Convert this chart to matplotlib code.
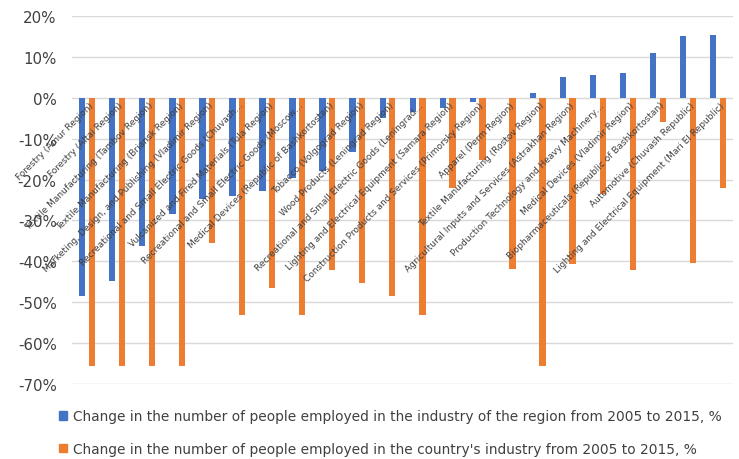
import numpy as np
import matplotlib
matplotlib.use("Agg")
from matplotlib import pyplot as plt
from matplotlib.patches import Patch

categories = [
    "Forestry (Amur Region)",
    "Forestry (Altai Region)",
    "Textile Manufacturing (Tambov Region)",
    "Textile Manufacturing (Briansk Region)",
    "Marketing, Design, and Publishing (Vladimir Region)",
    "Recreational and Small Electric Goods (Chuvash\u2026",
    "Vulcanized and Fired Materials (Tula Region)",
    "Recreational and Small Electric Goods (Moscow\u2026",
    "Medical Devices (Republic of Bashkortostan)",
    "Tobacco (Volgograd Region)",
    "Wood Products (Leningrad Region)",
    "Recreational and Small Electric Goods (Leningrad\u2026",
    "Lighting and Electrical Equipment (Samara Region)",
    "Construction Products and Services (Primorsky Region)",
    "Apparel (Perm Region)",
    "Textile Manufacturing (Rostov Region)",
    "Agricultural Inputs and Services (Astrakhan Region)",
    "Production Technology and Heavy Machinery\u2026",
    "Medical Devices (Vladimir Region)",
    "Biopharmaceuticals (Republic of Bashkortostan)",
    "Automotive (Chuvash Republic)",
    "Lighting and Electrical Equipment (Mari El Republic)",
]

# % change in employment, 2005 -> 2015
region_change = [-48.4, -44.7, -36.3, -28.5, -24.7, -24.1, -22.7, -19.5, -17.8, -13.2,
                 -4.9, -3.4, -2.4, -1.0, 0.0, 1.1, 5.0, 5.6, 6.0, 10.9, 15.1, 15.4]
country_change = [-65.5, -65.5, -65.5, -65.5, -35.5, -53.1, -46.6, -53.1, -42.1, -45.4,
                  -48.4, -53.1, -22.0, -15.3, -41.8, -65.5, -40.6, -23.6, -42.1, -5.8,
                  -40.4, -22.0]

yticks = [20, 10, 0, -10, -20, -30, -40, -50, -60, -70]

legend_labels = [
    "Change in the number of people employed in the industry of the region from 2005 to 2015, %",
    "Change in the number of people employed in the country's industry from 2005 to 2015, %",
]

blue = "#4472C4"
orange = "#ED7D31"
text_col = "#404040"

fig = plt.figure(figsize=(7.39, 4.60), dpi=100)
ax = fig.add_axes([0.0974, 0.163, 0.8946, 0.8])

x = np.arange(len(categories))
w = 0.21
off = 0.16
ax.bar(x - off, region_change, w, color=blue, zorder=3)
ax.bar(x + off, country_change, w, color=orange, zorder=3)

ax.set_xlim(-0.5, len(categories) - 0.5)
ax.set_ylim(-70, 20)
ax.set_yticks(yticks)
ax.set_yticklabels([f"{t}%" for t in yticks], fontsize=10.8, color=text_col)
ax.tick_params(axis="y", length=0, pad=11)
ax.set_xticks([])
ax.grid(axis="y", color="#d9d9d9", linewidth=1, zorder=0)
for s in ax.spines.values():
    s.set_visible(False)

# category names sit under the zero line, rotated
for i, name in enumerate(categories):
    ax.text(i + 0.05, -0.6, name, rotation=45, rotation_mode="anchor",
            ha="right", va="top", fontsize=6.5, color=text_col, zorder=4)

handles = [Patch(color=blue), Patch(color=orange)]
fig.legend(handles, legend_labels, loc="upper left", bbox_to_anchor=(0.08, 0.108),
           frameon=False, fontsize=9.95, labelcolor=text_col,
           handlelength=0.6, handleheight=0.6, handletextpad=0.4,
           labelspacing=1.35, borderpad=0, borderaxespad=0)

fig.savefig("out.png", dpi=100)
